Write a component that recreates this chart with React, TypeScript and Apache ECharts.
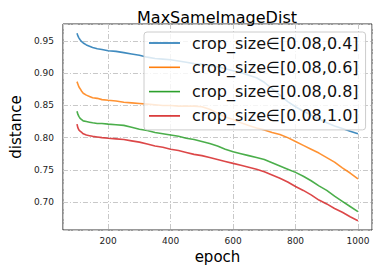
import React, { useEffect, useRef } from "react";
import * as echarts from "echarts";

const epochs = [100, 103, 106, 110, 115, 120, 130, 140, 150, 165, 180, 200, 225, 250, 275, 300, 325, 350, 375, 400, 425, 450, 475, 500, 525, 550, 575, 600, 625, 650, 675, 700, 725, 750, 775, 800, 825, 850, 875, 900, 925, 950, 975, 1000];

const dist04 = [0.962, 0.958, 0.955, 0.952, 0.949, 0.947, 0.944, 0.942, 0.940, 0.938, 0.937, 0.935, 0.934, 0.932, 0.930, 0.928, 0.925, 0.923, 0.922, 0.921, 0.919, 0.917, 0.915, 0.914, 0.912, 0.910, 0.907, 0.904, 0.901, 0.897, 0.893, 0.886, 0.876, 0.866, 0.856, 0.848, 0.841, 0.835, 0.829, 0.823, 0.818, 0.814, 0.810, 0.806];
const dist06 = [0.887, 0.883, 0.879, 0.876, 0.872, 0.869, 0.866, 0.864, 0.862, 0.861, 0.859, 0.858, 0.857, 0.855, 0.854, 0.853, 0.852, 0.851, 0.850, 0.850, 0.849, 0.849, 0.849, 0.848, 0.844, 0.838, 0.832, 0.828, 0.823, 0.819, 0.815, 0.812, 0.808, 0.805, 0.800, 0.794, 0.788, 0.782, 0.776, 0.769, 0.762, 0.753, 0.745, 0.736];
const dist08 = [0.841, 0.836, 0.833, 0.830, 0.828, 0.826, 0.825, 0.824, 0.823, 0.822, 0.822, 0.821, 0.820, 0.819, 0.816, 0.813, 0.811, 0.808, 0.806, 0.804, 0.802, 0.799, 0.797, 0.794, 0.791, 0.787, 0.782, 0.778, 0.775, 0.772, 0.769, 0.766, 0.761, 0.756, 0.751, 0.746, 0.740, 0.733, 0.725, 0.718, 0.709, 0.701, 0.693, 0.685];
const dist10 = [0.821, 0.815, 0.812, 0.810, 0.808, 0.806, 0.804, 0.803, 0.802, 0.801, 0.800, 0.799, 0.798, 0.797, 0.795, 0.793, 0.790, 0.787, 0.785, 0.782, 0.780, 0.777, 0.774, 0.772, 0.769, 0.766, 0.763, 0.760, 0.757, 0.754, 0.751, 0.747, 0.742, 0.737, 0.731, 0.724, 0.718, 0.711, 0.703, 0.697, 0.690, 0.684, 0.677, 0.671];

const seriesNames = [
  "crop_size∈[0.08,0.4]",
  "crop_size∈[0.08,0.6]",
  "crop_size∈[0.08,0.8]",
  "crop_size∈[0.08,1.0]",
];
const seriesData = [dist04, dist06, dist08, dist10];
const colors = ["#1f77b4", "#ff7f0e", "#2ca02c", "#d62728"];

const FONT = "DejaVu Sans";
const LINE_ICON = "path://M0,0L31,0L31,1.6L0,1.6Z";

export default function App() {
  const ref = useRef<HTMLDivElement>(null);
  useEffect(() => {
    if (!ref.current) return;
    const chart = echarts.init(ref.current, null, { renderer: "svg" });
    const gridLine = { show: true, lineStyle: { color: "#c8c8c8", width: 1, type: [5, 2, 1, 2] } };
    chart.setOption({
      animation: false,
      backgroundColor: "#ffffff",
      title: {
        text: "MaxSameImageDist",
        left: 212,
        top: 4,
        textAlign: "center",
        textStyle: { fontFamily: FONT, fontSize: 16, fontWeight: "normal", color: "#000" },
      },
      grid: {
        left: 53,
        right: 6,
        top: 24,
        bottom: 42,
        show: true,
        borderColor: "#333",
        borderWidth: 1,
        backgroundColor: "transparent",
      },
      legend: {
        left: 144,
        top: 32,
        orient: "vertical",
        itemWidth: 31,
        itemHeight: 18,
        itemGap: 6.3,
        padding: [2, 7, 5, 5],
        backgroundColor: "rgba(255,255,255,0.8)",
        borderColor: "#cccccc",
        borderWidth: 1,
        borderRadius: 3,
        symbolKeepAspect: true,
        textStyle: { fontFamily: FONT, fontSize: 16, color: "#111", lineHeight: 18, padding: [0, 0, 0, 7] },
        data: seriesNames.map((name) => ({ name, icon: LINE_ICON })),
      },
      xAxis: {
        type: "value",
        min: 55,
        max: 1045,
        splitNumber: 5,
        name: "epoch",
        nameLocation: "middle",
        nameGap: 19,
        nameTextStyle: { fontFamily: FONT, fontSize: 15, color: "#000" },
        axisLine: { show: false },
        axisTick: { show: false },
        axisLabel: {
          fontFamily: FONT,
          fontSize: 9,
          color: "#222",
          margin: 6,
          showMinLabel: false,
          showMaxLabel: false,
          formatter: (v: number) => String(Math.round(v)),
        },
        splitLine: gridLine,
      },
      yAxis: {
        type: "value",
        min: 0.6565,
        max: 0.9765,
        splitNumber: 6,
        name: "distance",
        nameLocation: "middle",
        nameGap: 31,
        nameTextStyle: { fontFamily: FONT, fontSize: 15, color: "#000" },
        axisLine: { show: false },
        axisTick: { show: false },
        axisLabel: {
          fontFamily: FONT,
          fontSize: 9,
          color: "#222",
          margin: 9,
          showMinLabel: false,
          showMaxLabel: false,
          formatter: (v: number) => v.toFixed(2),
        },
        splitLine: gridLine,
      },
      series: seriesNames.map((name, i) => ({
        name,
        type: "line",
        symbol: "none",
        data: epochs.map((e, j) => [e, seriesData[i][j]]),
        lineStyle: { color: colors[i], width: 1.6, opacity: 0.85 },
        itemStyle: { color: colors[i] },
        z: 2,
      })),
    });
    return () => chart.dispose();
  }, []);
  return <div ref={ref} style={{ position: "absolute", left: 0, top: 0, width: 378, height: 272 }} />;
}
